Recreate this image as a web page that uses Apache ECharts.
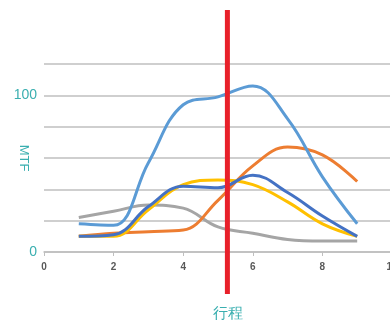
<!DOCTYPE html>
<html>
<head>
<meta charset="utf-8">
<script src="https://cdn.jsdelivr.net/npm/echarts@6/dist/echarts.min.js"></script>
<style>
html, body { margin: 0; padding: 0; background: #fff; }
#main { width: 390px; height: 324px; }
</style>
</head>
<body>
<div id="main"></div>
<script>
var xStroke = [1, 2, 3, 4, 5, 6, 7, 8, 9];
var lightBlue = [18, 17, 57, 94, 99, 106, 85, 48, 18];
var orange = [10, 12, 13, 14, 33, 55, 67, 62, 45];
var yellow = [10, 10, 27, 43, 46, 43, 32, 18, 10];
var darkBlue = [10, 11, 29, 42, 41, 49, 38, 23, 10];
var gray = [22, 26, 30, 28, 16, 12, 8, 7, 7];
var redPos = 5.27;
var yLabels = [0, 100];

var teal = '#3aafb0';

function pairs(vals) {
	var out = [];
	for (var i = 0; i < vals.length; i++) {
		out.push([xStroke[i], vals[i]]);
	}
	return out;
}

function curve(name, vals, color) {
	return {
		name: name,
		type: 'line',
		smooth: 0.4,
		symbol: 'none',
		data: pairs(vals),
		lineStyle: { color: color, width: 3 },
		itemStyle: { color: color }
	};
}

var myChart = echarts.init(document.getElementById('main'));
var option = {
	animation: false,
	grid: [
		{ left: 44, right: -2, top: 64, bottom: 72, containLabel: false, outerBoundsMode: 'none' },
		{ left: 44, right: -2, top: 10, bottom: 30, containLabel: false, outerBoundsMode: 'none' }
	],
	xAxis: [{
		type: 'value',
		min: 0,
		max: 10,
		interval: 2,
		name: '行程',
		nameLocation: 'middle',
		nameGap: 54,
		nameMoveOverlap: false,
		nameTextStyle: { color: teal, fontSize: 15, padding: [0, 0, 0, 20] },
		axisLine: { lineStyle: { color: '#bfbfbf', width: 1.5 } },
		axisTick: { show: true, length: 4, lineStyle: { color: '#bfbfbf' } },
		axisLabel: { color: '#595959', fontSize: 10, fontWeight: 'bold', margin: 10, hideOverlap: false },
		splitLine: { show: false }
	}, {
		gridIndex: 1,
		type: 'value',
		min: 0,
		max: 10,
		show: false
	}],
	yAxis: [{
		type: 'value',
		min: 0,
		max: 120,
		interval: 20,
		name: 'MTF',
		nameLocation: 'middle',
		nameRotate: -90,
		nameGap: 14,
		nameMoveOverlap: false,
		nameTextStyle: { color: teal, fontSize: 13 },
		axisLine: { show: false },
		axisTick: { show: false },
		axisLabel: {
			color: teal,
			fontSize: 14,
			margin: 7,
			formatter: function (v) {
				return yLabels.indexOf(v) >= 0 ? String(v) : '';
			}
		},
		splitLine: { lineStyle: { color: '#bfbfbf', width: 1.5 } }
	}, {
		gridIndex: 1,
		type: 'value',
		min: 0,
		max: 1,
		show: false
	}],
	series: [
		curve('gray', gray, '#a5a5a5'),
		curve('orange', orange, '#ed7d31'),
		curve('yellow', yellow, '#ffc000'),
		curve('darkBlue', darkBlue, '#4472c4'),
		curve('lightBlue', lightBlue, '#5b9bd5'),
		{
			name: 'marker',
			type: 'line',
			xAxisIndex: 1,
			yAxisIndex: 1,
			symbol: 'none',
			data: [[redPos, 0], [redPos, 1]],
			lineStyle: { color: '#e8202a', width: 5 },
			z: 10
		}
	]
};
myChart.setOption(option);
</script>
</body>
</html>
